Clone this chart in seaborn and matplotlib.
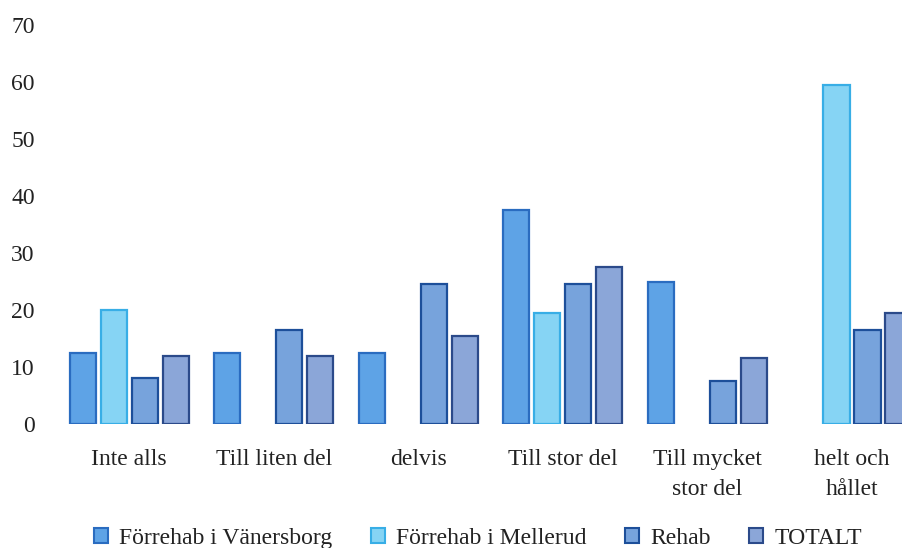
import pandas as pd
import numpy as np
import matplotlib
matplotlib.use('Agg')
import matplotlib.pyplot as plt
import seaborn as sns
from matplotlib.patches import Patch

# data
kategorier = ['Inte alls', 'Till liten del', 'delvis', 'Till stor del',
              'Till mycket\nstor del', 'helt och\nhållet']
serier = ['Förrehab i Vänersborg', 'Förrehab i Mellerud', 'Rehab', 'TOTALT']
vanersborg = [12.5, 12.5, 12.5, 37.5, 25.0, 0]
mellerud = [20.0, 0, 0, 19.5, 0, 59.5]
rehab = [8.0, 16.5, 24.5, 24.5, 7.5, 16.5]
totalt = [12.0, 12.0, 15.5, 27.5, 11.5, 19.5]

fyllning = ['#5ea3e6', '#86d4f4', '#77a3dc', '#8ba6d8']
kanter = ['#2a6cc0', '#38aee6', '#1d4f9a', '#2b4a8a']

df = pd.DataFrame({'Kategori': kategorier * 4,
                   'Serie': np.repeat(serier, len(kategorier)),
                   'Andel': vanersborg + mellerud + rehab + totalt})

sns.set_style('white')
plt.rcParams['font.family'] = ['Liberation Serif', 'DejaVu Serif']

fig = plt.figure(figsize=(9.02, 5.48), dpi=100)
ax = fig.add_axes([57/902, 124/548, (902-57)/902, (424-25)/548])

sns.barplot(data=df, x='Kategori', y='Andel', hue='Serie', order=kategorier,
            hue_order=serier, palette=fyllning, width=0.858, gap=0.16,
            linewidth=1.6, saturation=1, ax=ax)

for cont, kc in zip(ax.containers, kanter):
    for p in cont:
        p.set_edgecolor(kc)
        if p.get_height() == 0:
            p.set_linewidth(0)

ax.set_ylim(0, 70)
ax.set_xlim(-0.5, 5 + 50/144.5)
ax.set_yticks(range(0, 71, 10))
ax.set_xlabel('')
ax.set_ylabel('')
ax.tick_params(axis='y', length=0, pad=16, labelsize=17, colors='#222222')
ax.tick_params(axis='x', length=0, pad=18, labelsize=17, colors='#222222')
for lab in ax.get_xticklabels():
    lab.set_linespacing(1.55)
sns.despine(ax=ax, left=True, bottom=True)
ax.get_legend().remove()

handles = [Patch(facecolor=f, edgecolor=k, linewidth=1.5) for f, k in zip(fyllning, kanter)]
fig.legend(handles, serier, loc='lower center', bbox_to_anchor=(0.53, -0.027), ncol=4,
           frameon=False, fontsize=17, handlelength=0.6, handleheight=0.6,
           handletextpad=0.5, columnspacing=1.6, labelcolor='#222222',
           borderpad=0.1)

plt.savefig('out.png', dpi=100)
